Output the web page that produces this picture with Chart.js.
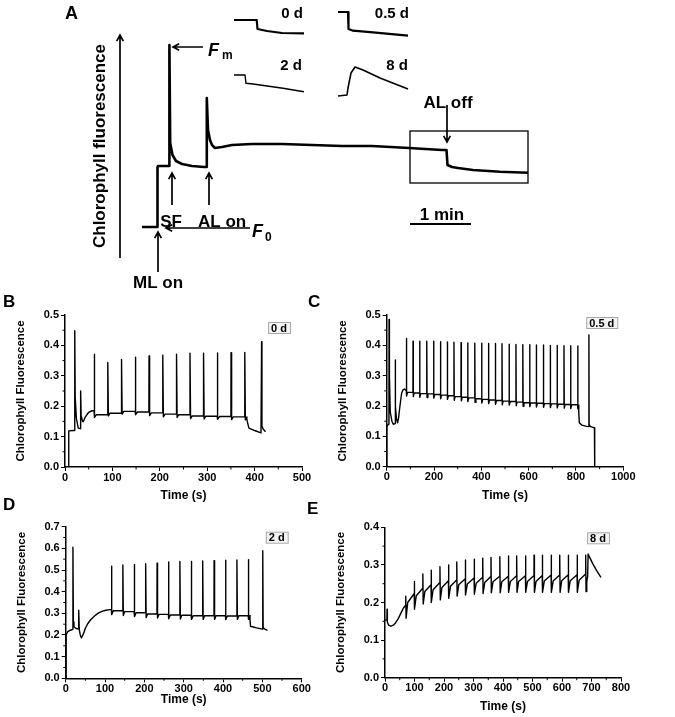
<!DOCTYPE html>
<html>
<head>
<meta charset="utf-8">
<script src="https://cdn.jsdelivr.net/npm/chart.js@4.4.1/dist/chart.umd.min.js"></script>
<style>
  body { margin: 0; background: #fff; width: 675px; height: 717px; position: relative; overflow: hidden;
         font-family: "Liberation Sans", Arial, sans-serif; }
  canvas { position: absolute; }
  .lbl { position: absolute; font-weight: bold; font-size: 17px; line-height: 1; }
</style>
</head>
<body>
<canvas id="chartA" width="675" height="300" style="left:0;top:0"></canvas>
<canvas id="chartB" width="337" height="220" style="left:0;top:286px"></canvas>
<canvas id="chartC" width="375" height="220" style="left:300px;top:286px"></canvas>
<canvas id="chartD" width="337" height="217" style="left:0;top:500px"></canvas>
<canvas id="chartE" width="375" height="217" style="left:300px;top:500px"></canvas>
<div class="lbl" style="left:3px;top:293px">B</div>
<div class="lbl" style="left:308px;top:293px">C</div>
<div class="lbl" style="left:3px;top:496px">D</div>
<div class="lbl" style="left:307px;top:500px">E</div>
<script>
const FONT = '"Liberation Sans", Arial, sans-serif';
Chart.defaults.font.family = FONT;
Chart.defaults.color = '#000';

// --- panel A : schematic trace (time in s, fluorescence in arbitrary units)
const aTraceT = [0, 15, 15.5, 16, 26, 27, 27.4, 28.2, 30.5, 34, 40, 50, 62, 64.4, 64.8, 66, 68, 70, 73, 80,
                 90, 110, 140, 170, 200, 230, 267, 300, 304.5, 305.5, 310, 316, 331, 358, 386];
const aTraceF = [33, 33, 93, 94, 94, 94, 215, 117, 105, 99, 96, 94, 93, 93, 162, 130, 120, 115, 112, 113,
                 115, 116, 116, 115, 114, 114, 112, 110, 110, 95, 93, 92, 90, 88.3, 87.3];
const inset0T = [92, 114.7, 115.5, 125, 140, 162];
const inset0F = [240, 240, 231, 229, 227, 226.7];
const inset05T = [196, 206, 206.5, 211, 231, 266];
const inset05F = [248, 248, 231, 229.3, 227.7, 224.3];
const inset2T = [92, 103, 104, 111, 141, 162];
const inset2F = [185, 185, 176.7, 176, 171.7, 168.3];
const inset8T = [196, 205, 206, 209, 213, 221, 238, 266];
const inset8F = [164, 165, 172, 187, 193, 190, 182, 171];
const insetNames = ['0 d', '0.5 d', '2 d', '8 d'];
const eventNames = ['ML on', 'SF', 'AL on', 'AL off'];
const eventTimes = [16, 30, 67, 305];

// --- panel B : 0 d
const bHeadT = [7.7, 7.9, 18, 20.2, 20.6, 21.5, 24, 28, 32.6, 33, 34, 37, 38.5, 43, 50, 57, 61.3];
const bHeadV = [0, 0.119, 0.12, 0.12, 0.448, 0.23, 0.16, 0.128, 0.126, 0.25, 0.17, 0.15, 0.149, 0.165, 0.18, 0.185, 0.185];
const bPulseT = [61.3, 90, 119, 148, 177, 206, 235, 263.4, 292, 321, 350, 379];
const bPulsePeak = [0.371, 0.344, 0.354, 0.361, 0.365, 0.368, 0.371, 0.374, 0.374, 0.375, 0.376, 0.377];
const bPulseDip = [0.163, 0.168, 0.174, 0.172, 0.169, 0.165, 0.163, 0.159, 0.158, 0.157, 0.156, 0.155];
const bPulseLevel = [0.172, 0.177, 0.183, 0.181, 0.178, 0.174, 0.172, 0.168, 0.167, 0.166, 0.165, 0.164];
const bTailT = [383, 384.5, 388, 400, 413.5, 414.8, 415.5, 418, 423];
const bTailV = [0.164, 0.15, 0.128, 0.12, 0.112, 0.412, 0.135, 0.125, 0.116];

// --- panel C : 0.5 d
const cHeadT = [0, 0.2, 5, 9.5, 10, 11.5, 15, 22, 28, 35.5, 36, 37.5, 41, 46, 50, 56, 63, 69, 75, 83];
const cHeadV = [0, 0.132, 0.138, 0.14, 0.485, 0.3, 0.18, 0.15, 0.14, 0.142, 0.352, 0.2, 0.16, 0.145, 0.16, 0.2, 0.242, 0.253, 0.256, 0.25];
const cPulseT = [83, 111, 139, 169, 198, 227, 256, 284, 314, 342, 372, 401, 430, 459, 487, 517, 546, 575, 604, 632,
                 662, 691, 720, 749, 777, 807];
const cPulsePeak = [0.423, 0.414, 0.414, 0.414, 0.414, 0.412, 0.411, 0.410, 0.409, 0.408, 0.407, 0.407, 0.406, 0.406,
                    0.405, 0.404, 0.403, 0.402, 0.402, 0.401, 0.401, 0.400, 0.400, 0.399, 0.399, 0.398];
const cPulseDip = [0.233, 0.231, 0.229, 0.228, 0.226, 0.224, 0.222, 0.219, 0.217, 0.215, 0.212, 0.210, 0.208, 0.206,
                   0.204, 0.203, 0.201, 0.199, 0.198, 0.197, 0.196, 0.195, 0.194, 0.193, 0.192, 0.191];
const cPulseLevel = [0.245, 0.243, 0.241, 0.240, 0.238, 0.236, 0.234, 0.231, 0.229, 0.227, 0.224, 0.222, 0.220, 0.218,
                     0.216, 0.215, 0.213, 0.211, 0.210, 0.209, 0.208, 0.207, 0.206, 0.205, 0.204, 0.203];
const cTailT = [811, 812.5, 814, 825, 845, 854, 854.7, 855.5, 860, 878, 879, 879.3];
const cTailV = [0.203, 0.18, 0.145, 0.137, 0.133, 0.132, 0.434, 0.14, 0.133, 0.128, 0.125, 0];

// --- panel D : 2 d
const dHeadT = [0.8, 1, 5, 12, 17.8, 18.4, 19.5, 21, 25, 29, 32.6, 33.1, 34.5, 37, 40, 45, 50, 56, 63, 70, 76, 84, 92, 102, 112, 116];
const dHeadV = [0, 0.2, 0.215, 0.222, 0.226, 0.605, 0.26, 0.238, 0.232, 0.228, 0.23, 0.315, 0.225, 0.2, 0.186, 0.205,
                0.231, 0.252, 0.269, 0.282, 0.292, 0.302, 0.309, 0.314, 0.317, 0.318];
const dPulseT = [116, 145, 174, 203, 232, 261, 290, 319, 348, 377, 406, 435, 464];
const dPulsePeak = [0.518, 0.523, 0.526, 0.529, 0.532, 0.537, 0.539, 0.540, 0.542, 0.543, 0.545, 0.546, 0.548];
const dPulseDip = [0.294, 0.290, 0.285, 0.280, 0.278, 0.275, 0.274, 0.272, 0.272, 0.272, 0.271, 0.272, 0.272];
const dPulseLevel = [0.312, 0.308, 0.303, 0.297, 0.295, 0.292, 0.291, 0.289, 0.289, 0.289, 0.288, 0.289, 0.289];
const dTailT = [467, 468.5, 470, 475, 485, 500.5, 501, 502, 506, 513];
const dTailV = [0.289, 0.27, 0.24, 0.238, 0.233, 0.227, 0.589, 0.235, 0.227, 0.221];

// --- panel E : 8 d
const eHeadT = [0, 6.5, 7, 8, 12, 20, 27, 34, 45, 56, 63, 70];
const eHeadV = [0.153, 0.153, 0.182, 0.148, 0.14, 0.137, 0.139, 0.144, 0.157, 0.175, 0.186, 0.193];
const ePulseT = [70, 99, 128, 156, 186, 215, 243, 272, 302, 331, 359, 389, 418, 446, 476, 505, 533, 563, 592, 621, 651, 680];
const ePulsePeak = [0.217, 0.256, 0.276, 0.286, 0.295, 0.300, 0.308, 0.313, 0.315, 0.318, 0.320, 0.322, 0.324, 0.324,
                    0.324, 0.326, 0.326, 0.326, 0.326, 0.326, 0.326, 0.326];
const ePulseDip = [0.158, 0.182, 0.196, 0.200, 0.207, 0.211, 0.217, 0.220, 0.222, 0.224, 0.226, 0.226, 0.227, 0.227,
                   0.227, 0.227, 0.227, 0.227, 0.227, 0.227, 0.227, 0.229];
const ePulseMid = [0.200, 0.218, 0.229, 0.234, 0.240, 0.243, 0.247, 0.249, 0.251, 0.253, 0.255, 0.255, 0.256, 0.256,
                   0.256, 0.256, 0.257, 0.257, 0.258, 0.258, 0.259];
const ePulseTop = [0.224, 0.238, 0.247, 0.253, 0.258, 0.260, 0.263, 0.265, 0.267, 0.269, 0.270, 0.270, 0.271, 0.271,
                   0.272, 0.272, 0.273, 0.273, 0.274, 0.274, 0.276];
const eTailT = [684, 687, 688.5, 695, 705, 718, 732];
const eTailV = [0.255, 0.27, 0.329, 0.318, 0.302, 0.284, 0.267];


function zip(xs, ys) {
  return xs.map((x, i) => ({ x: x, y: ys[i] }));
}

// saturating pulses: peak, dip just after, then level (or mid + top) until next pulse
function buildTrace(headT, headV, pT, pPeak, pDip, pLevel, tailT, tailV, pMid) {
  const pts = zip(headT, headV);
  pT.forEach((t, i) => {
    pts.push({ x: t + 0.3, y: pPeak[i] }, { x: t + 1.5, y: pDip[i] });
    if (i < pLevel.length) {
      if (pMid) pts.push({ x: t + 7, y: pMid[i] });
      else pts.push({ x: t + 5, y: pLevel[i] });
      if (i + 1 < pT.length) pts.push({ x: pT[i + 1], y: pLevel[i] });
    }
  });
  return pts.concat(zip(tailT, tailV));
}

function arrow(ctx, x1, y1, x2, y2, head) {
  const ang = Math.atan2(y2 - y1, x2 - x1);
  ctx.beginPath();
  ctx.moveTo(x1, y1);
  ctx.lineTo(x2, y2);
  ctx.moveTo(x2 - head * Math.cos(ang - 0.5), y2 - head * Math.sin(ang - 0.5));
  ctx.lineTo(x2, y2);
  ctx.lineTo(x2 - head * Math.cos(ang + 0.5), y2 - head * Math.sin(ang + 0.5));
  ctx.stroke();
}

// labels and arrows of panel A
const annotA = {
  id: 'annotA',
  afterDatasetsDraw(chart) {
    const { ctx, scales: { x, y } } = chart;
    const X = t => x.getPixelForValue(t);
    const Y = f => y.getPixelForValue(f);
    const txt = (s, t, f, align, font) => {
      ctx.font = font;
      ctx.textAlign = align;
      ctx.textBaseline = 'alphabetic';
      ctx.fillText(s, X(t), Y(f));
    };
    const big = 'bold 17px ' + FONT;
    ctx.save();
    ctx.strokeStyle = '#000';
    ctx.fillStyle = '#000';
    ctx.lineWidth = 1.7;

    txt('A', -77, 241.5, 'left', 'bold 18px ' + FONT);

    ctx.save();
    ctx.translate(X(-42), Y(114));
    ctx.rotate(-Math.PI / 2);
    ctx.font = big;
    ctx.textAlign = 'center';
    ctx.textBaseline = 'middle';
    ctx.fillText('Chlorophyll fluorescence', 0, 0);
    ctx.restore();
    arrow(ctx, X(-22), Y(2), X(-22), Y(225), 7);

    // ML on / SF / AL on / AL off
    arrow(ctx, X(eventTimes[0]), Y(-12), X(eventTimes[0]), Y(28), 7);
    txt(eventNames[0], eventTimes[0], -28, 'center', big);
    arrow(ctx, X(eventTimes[1]), Y(55), X(eventTimes[1]), Y(87), 7);
    txt(eventNames[1], eventTimes[1] - 1, 33, 'center', big);
    arrow(ctx, X(eventTimes[2]), Y(55), X(eventTimes[2]), Y(87), 7);
    txt(eventNames[2], eventTimes[2] - 11, 33, 'left', big);
    arrow(ctx, X(eventTimes[3]), Y(155), X(eventTimes[3]), Y(118), 7);
    txt(eventNames[3], eventTimes[3] + 1, 152, 'center', big);

    // F0 and Fm
    arrow(ctx, X(108), Y(32), X(24), Y(32), 7);
    txt('F', 110, 23, 'left', 'italic bold 18px ' + FONT);
    txt('0', 123, 19, 'left', 'bold 12px ' + FONT);
    arrow(ctx, X(61), Y(213), X(31), Y(213), 7);
    txt('F', 66, 204, 'left', 'italic bold 18px ' + FONT);
    txt('m', 80, 201, 'left', 'bold 12px ' + FONT);

    // zoom box and scale bar
    ctx.lineWidth = 1.3;
    ctx.strokeRect(X(268), Y(129), X(386) - X(268), Y(77) - Y(129));
    ctx.lineWidth = 1.8;
    ctx.beginPath();
    ctx.moveTo(X(268), Y(36));
    ctx.lineTo(X(329), Y(36));
    ctx.stroke();
    txt('1 min', 300, 40, 'center', big);

    // inset labels
    const small = 'bold 15px ' + FONT;
    txt(insetNames[0], inset0T[inset0T.length - 1] - 1, 242, 'right', small);
    txt(insetNames[1], inset05T[inset05T.length - 1] + 1, 242, 'right', small);
    txt(insetNames[2], inset2T[inset2T.length - 1] - 2, 190, 'right', small);
    txt(insetNames[3], inset8T[inset8T.length - 1], 190, 'right', small);
    ctx.restore();
  }
};

new Chart(document.getElementById('chartA'), {
  type: 'line',
  data: {
    datasets: [
      { data: zip(aTraceT, aTraceF), borderWidth: 2.6 },
      { data: zip(inset0T, inset0F), borderWidth: 2.2 },
      { data: zip(inset05T, inset05F), borderWidth: 2.2 },
      { data: zip(inset2T, inset2F), borderWidth: 1.4 },
      { data: zip(inset8T, inset8F), borderWidth: 1.6 }
    ]
  },
  options: {
    responsive: false,
    animation: false,
    events: [],
    layout: { padding: 0 },
    plugins: { legend: { display: false }, tooltip: { enabled: false } },
    elements: { point: { radius: 0 }, line: { borderColor: '#000', tension: 0, borderJoinStyle: 'round' } },
    scales: {
      x: { type: 'linear', display: false, min: -142, max: 533 },
      y: { display: false, min: -40, max: 260 }
    }
  },
  plugins: [annotA]
});

// small outward ticks half way between the labelled ones
const minorTicks = {
  id: 'minorTicks',
  afterDraw(chart) {
    const ctx = chart.ctx;
    ctx.save();
    ctx.strokeStyle = '#000';
    ctx.lineWidth = 1;
    ['x', 'y'].forEach(id => {
      const s = chart.scales[id];
      const tk = s.ticks;
      for (let i = 0; i < tk.length - 1; i++) {
        const p = s.getPixelForValue((tk[i].value + tk[i + 1].value) / 2);
        ctx.beginPath();
        if (id === 'x') { ctx.moveTo(p, s.top); ctx.lineTo(p, s.top + 2.5); }
        else { ctx.moveTo(s.right, p); ctx.lineTo(s.right - 2.5, p); }
        ctx.stroke();
      }
    });
    ctx.restore();
  }
};

// the little "0 d" box in the top right corner
const tagBox = {
  id: 'tagBox',
  afterDraw(chart, args, o) {
    const { ctx, chartArea: a } = chart;
    ctx.save();
    ctx.font = 'bold 11px ' + FONT;
    const w = ctx.measureText(o.text).width + 6;
    const h = 11;
    const x = a.right - o.right - w;
    const y = a.top + o.top;
    ctx.fillStyle = '#f3f3f3';
    ctx.fillRect(x, y, w, h);
    ctx.strokeStyle = '#a8a8a8';
    ctx.lineWidth = 1;
    ctx.strokeRect(x + 0.5, y + 0.5, w, h);
    ctx.fillStyle = '#000';
    ctx.textBaseline = 'middle';
    ctx.fillText(o.text, x + 3, y + h / 2 + 1);
    ctx.restore();
  }
};

function fitArea(chart, want) {
  const pad = { left: 0, right: 0, top: 0, bottom: 0 };
  for (let k = 0; k < 3; k++) {
    const a = chart.chartArea;
    pad.left += want.left - a.left;
    pad.top += want.top - a.top;
    pad.right += a.right - want.right;
    pad.bottom += a.bottom - want.bottom;
    chart.options.layout.padding = { ...pad };
    chart.update();
  }
}

function makePanel(id, area, xMax, xStep, yMax, points, tag, tagRight, tagTop, titleGap) {
  const cv = document.getElementById(id);
  const axisGrid = { drawOnChartArea: false, tickLength: 4, color: '#000', tickWidth: 1 };
  const axisBorder = { color: '#000', width: 1.5 };
  const tickFont = { size: 11, weight: 'bold', lineHeight: 1 };
  const chart = new Chart(cv, {
    type: 'line',
    data: {
      datasets: [{ data: points, borderColor: '#000', borderWidth: 1.4, pointRadius: 0, tension: 0,
                   borderJoinStyle: 'round' }]
    },
    options: {
      responsive: false,
      animation: false,
      events: [],
      layout: { padding: { left: 0, right: 0, top: 0, bottom: 0 } },
      plugins: {
        legend: { display: false },
        tooltip: { enabled: false },
        tagBox: { text: tag, right: tagRight, top: tagTop }
      },
      scales: {
        x: {
          type: 'linear', min: 0, max: xMax,
          ticks: { stepSize: xStep, font: tickFont, padding: 1, maxRotation: 0, callback: v => String(v) },
          grid: axisGrid, border: axisBorder,
          title: { display: true, text: 'Time (s)', font: { size: 12, weight: 'bold', lineHeight: 1 },
                   padding: { top: titleGap, bottom: 0 } }
        },
        y: {
          min: 0, max: yMax,
          ticks: { stepSize: 0.1, font: tickFont, padding: 2, callback: v => v.toFixed(1) },
          grid: axisGrid, border: axisBorder,
          title: { display: true, text: 'Chlorophyll Fluorescence', font: { size: 11.5, weight: 'bold' },
                   padding: { top: 0, bottom: 14 } }
        }
      }
    },
    plugins: [minorTicks, tagBox]
  });
  const left = parseFloat(cv.style.left), top = parseFloat(cv.style.top);
  fitArea(chart, { left: area[0] - left, top: area[1] - top, right: area[2] - left, bottom: area[3] - top });
  return chart;
}

makePanel('chartB', [65, 315, 302, 467], 500, 100, 0.5,
  buildTrace(bHeadT, bHeadV, bPulseT, bPulsePeak, bPulseDip, bPulseLevel, bTailT, bTailV),
  insetNames[0], 12, 7, 6);
makePanel('chartC', [386.7, 315, 623.3, 466.7], 1000, 200, 0.5,
  buildTrace(cHeadT, cHeadV, cPulseT, cPulsePeak, cPulseDip, cPulseLevel, cTailT, cTailV),
  insetNames[1], 6, 2, 6);
makePanel('chartD', [65.7, 526.7, 301.7, 678.3], 600, 100, 0.7,
  buildTrace(dHeadT, dHeadV, dPulseT, dPulsePeak, dPulseDip, dPulseLevel, dTailT, dTailV),
  insetNames[2], 14, 5, -2);
makePanel('chartE', [385, 527.3, 621, 677.7], 800, 100, 0.4,
  buildTrace(eHeadT, eHeadV, ePulseT, ePulsePeak, ePulseDip, ePulseTop, eTailT, eTailV, ePulseMid),
  insetNames[3], 12, 5, 6);
</script>
</body>
</html>
